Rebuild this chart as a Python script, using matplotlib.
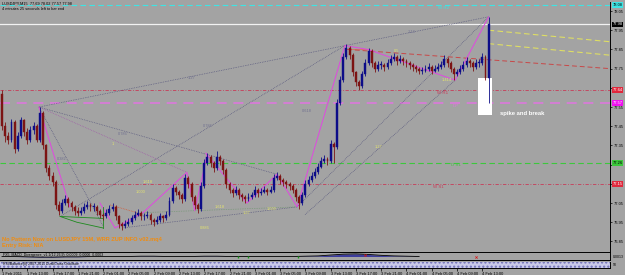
import matplotlib
matplotlib.use("Agg")
import matplotlib.pyplot as plt
import matplotlib.transforms as mtransforms
from matplotlib.patches import Rectangle
import numpy as np

plt.rcParams["font.family"] = ["Liberation Sans", "DejaVu Sans"]

# === 30 minute bars, 1 Feb 2011 09:00 -> 4 Feb 2011 14:00 ===
first_open = 77.62
closes = [77.45, 77.40, 77.38, 77.47, 77.33, 77.40, 77.48, 77.42, 77.38, 77.43,
          77.45, 77.38, 77.52, 77.35, 77.23, 77.19, 77.16, 77.04, 77.01, 77.05,
          77.07, 77.05, 77.03, 77.01, 77.00, 77.01, 77.03, 77.04, 77.03, 77.03,
          77.01, 76.99, 76.98, 77.00, 77.02, 77.03, 76.98, 76.94, 76.93, 76.94,
          76.95, 76.97, 76.99, 77.00, 76.98, 76.98, 76.99, 76.96, 76.95, 76.96,
          76.98, 76.97, 76.99, 77.06, 77.13, 77.11, 77.09, 77.07, 77.18, 77.15,
          77.08, 77.04, 77.02, 77.14, 77.26, 77.29, 77.26, 77.23, 77.29, 77.27,
          77.22, 77.15, 77.12, 77.10, 77.12, 77.09, 77.08, 77.07, 77.08, 77.09,
          77.12, 77.10, 77.11, 77.12, 77.11, 77.12, 77.18, 77.19, 77.17, 77.16,
          77.15, 77.14, 77.12, 77.08, 77.05, 77.09, 77.15, 77.17, 77.19, 77.21,
          77.24, 77.27, 77.28, 77.27, 77.36, 77.34, 77.57, 77.69, 77.81, 77.86,
          77.82, 77.73, 77.68, 77.66, 77.72, 77.78, 77.84, 77.78, 77.75, 77.77,
          77.77, 77.76, 77.78, 77.80, 77.81, 77.79, 77.80, 77.79, 77.78, 77.77,
          77.76, 77.75, 77.74, 77.74, 77.75, 77.76, 77.74, 77.75, 77.76, 77.77,
          77.80, 77.78, 77.75, 77.72, 77.73, 77.75, 77.77, 77.79, 77.78, 77.76,
          77.78, 77.78, 77.81, 77.70, 77.98]
highs = [77.64, 77.47, 77.42, 77.49, 77.48, 77.42, 77.50, 77.49, 77.44, 77.45,
         77.47, 77.46, 77.55, 77.53, 77.36, 77.25, 77.21, 77.17, 77.06, 77.07,
         77.09, 77.08, 77.06, 77.04, 77.03, 77.03, 77.05, 77.06, 77.05, 77.05,
         77.04, 77.02, 77.00, 77.02, 77.04, 77.05, 77.04, 76.99, 76.95, 76.96,
         76.97, 76.99, 77.01, 77.02, 77.01, 77.00, 77.01, 77.00, 76.97, 76.98,
         77.00, 76.99, 77.01, 77.08, 77.15, 77.14, 77.12, 77.10, 77.20, 77.19,
         77.16, 77.09, 77.05, 77.16, 77.28, 77.31, 77.30, 77.27, 77.32, 77.30,
         77.28, 77.23, 77.16, 77.13, 77.14, 77.13, 77.10, 77.09, 77.10, 77.11,
         77.14, 77.13, 77.13, 77.14, 77.13, 77.14, 77.20, 77.21, 77.20, 77.18,
         77.17, 77.16, 77.15, 77.13, 77.09, 77.11, 77.17, 77.19, 77.21, 77.23,
         77.26, 77.29, 77.30, 77.29, 77.38, 77.37, 77.59, 77.71, 77.83, 77.88,
         77.87, 77.83, 77.74, 77.69, 77.74, 77.80, 77.86, 77.85, 77.79, 77.79,
         77.79, 77.78, 77.80, 77.82, 77.83, 77.82, 77.82, 77.81, 77.80, 77.79,
         77.78, 77.77, 77.76, 77.76, 77.77, 77.78, 77.77, 77.77, 77.78, 77.79,
         77.82, 77.81, 77.79, 77.76, 77.75, 77.77, 77.79, 77.81, 77.80, 77.79,
         77.80, 77.80, 77.83, 77.82, 78.02]
lows = [77.43, 77.37, 77.36, 77.37, 77.31, 77.32, 77.39, 77.40, 77.36, 77.37,
        77.41, 77.37, 77.37, 77.33, 77.21, 77.17, 77.14, 77.02, 76.99, 77.00,
        77.04, 77.03, 77.01, 76.99, 76.98, 76.99, 77.00, 77.02, 77.01, 77.01,
        76.99, 76.97, 76.96, 76.97, 76.99, 77.01, 76.96, 76.92, 76.91, 76.92,
        76.93, 76.94, 76.96, 76.98, 76.96, 76.96, 76.97, 76.94, 76.93, 76.94,
        76.95, 76.95, 76.96, 76.98, 77.05, 77.09, 77.07, 77.05, 77.06, 77.13,
        77.06, 77.02, 77.00, 77.01, 77.13, 77.25, 77.24, 77.21, 77.22, 77.25,
        77.20, 77.13, 77.10, 77.08, 77.09, 77.07, 77.06, 77.05, 77.06, 77.07,
        77.08, 77.08, 77.09, 77.10, 77.09, 77.10, 77.11, 77.17, 77.15, 77.14,
        77.13, 77.12, 77.10, 77.06, 77.02, 77.04, 77.08, 77.14, 77.16, 77.18,
        77.20, 77.23, 77.26, 77.25, 77.26, 77.26, 77.33, 77.56, 77.68, 77.80,
        77.80, 77.71, 77.66, 77.64, 77.65, 77.71, 77.77, 77.76, 77.73, 77.74,
        77.75, 77.74, 77.75, 77.77, 77.79, 77.77, 77.78, 77.77, 77.76, 77.75,
        77.74, 77.73, 77.72, 77.72, 77.73, 77.74, 77.72, 77.73, 77.74, 77.75,
        77.76, 77.76, 77.73, 77.69, 77.71, 77.72, 77.74, 77.76, 77.76, 77.74,
        77.75, 77.76, 77.77, 77.69, 77.57]

time_labels = ["1 Feb 2011", "1 Feb 13:00", "1 Feb 17:00", "1 Feb 21:00", "2 Feb 01:00",
               "2 Feb 05:00", "2 Feb 09:00", "2 Feb 13:00", "2 Feb 17:00", "2 Feb 21:00",
               "3 Feb 01:00", "3 Feb 05:00", "3 Feb 09:00", "3 Feb 13:00", "3 Feb 17:00",
               "3 Feb 21:00", "4 Feb 01:00", "4 Feb 05:00", "4 Feb 09:00", "4 Feb 13:00"]
bars_per_label = 8

price_ticks = [78.05, 77.95, 77.85, 77.75, 77.65, 77.55, 77.45, 77.35,
               77.25, 77.15, 77.05, 76.95, 76.85]
# labels hidden behind the coloured level boxes on the price scale
hidden_ticks = [77.65, 77.25, 77.15]

# pivot levels
level_names = ["W R2", "W R1", "DP", "D S1", "W S1"]
level_prices = [78.08, 77.64, 77.57, 77.26, 77.15]
level_colors = ["#3ee4e4", "#c83c58", "#dc78dc", "#3cc83c", "#c83c58"]
level_label_x = [138, 137.5, 142.5, 142.0, 136.5]
bid_price = 77.98

# harmonic pattern drawing (bar index, price)
fan_start_x = [11.7, 11.7, 11.7, 18.4, 93.4, 95.9, 38.0]
fan_start_y = [77.55, 77.55, 77.55, 76.98, 77.03, 76.99, 76.92]
fan_end_x = [154.0, 87.0, 32.0, 108.5, 154.0, 143.4, 93.4]
fan_end_y = [78.02, 77.20, 76.93, 77.87, 78.02, 77.69, 77.03]

zz1_x = [11.7, 21.5]
zz1_y = [77.55, 77.03]
zz2_x = [31.0, 35.8, 44.6, 58.5, 61.0, 64.9]
zz2_y = [77.05, 76.92, 77.00, 77.21, 77.01, 77.30]
zz3_x = [64.5, 77.5, 87.0, 93.4, 108.5, 115.8, 143.4, 154.0]
zz3_y = [77.31, 77.05, 77.20, 77.03, 77.87, 77.85, 77.69, 78.02]

green_x = [32.0, 18.4, 23.7, 32.0, 32.0]
green_y = [76.97, 76.98, 76.95, 76.92, 77.03]

yellow_x0 = [154.0, 154.0]
yellow_y0 = [77.95, 77.88]
yellow_x1 = [192.4, 192.4]
yellow_y1 = [77.89, 77.82]
trend_x = [109.2, 192.4]
trend_y = [77.85, 77.75]

fib_x = [60.1, 38.3, 35.1, 19.0, 46.2, 43.7, 65.2, 96.5, 119.0, 69.0,
         77.5, 85.4, 64.2, 129.7, 125.0, 140.8]
fib_y = [77.70, 77.41, 77.36, 77.28, 77.16, 77.11, 77.45, 77.53, 77.34, 77.03,
         77.00, 77.02, 76.92, 77.94, 77.84, 77.69]
fib_text = ["1.27", "0.786", "1", "0.382", "1.618", "1.000", "0.786", "0.618", "1.27", "1.618",
            "1.27", "1.000", "0.886", "1.13", "0.5", "1.414"]
fib_yellow = [0, 0, 1, 0, 1, 1, 0, 0, 1, 1, 1, 1, 1, 0, 1, 1]

# MACD main line (every 4 bars)
macd_vals = [0.0, 0.0, -0.1, -0.2, -0.2, -0.1, -0.1, 0.0, 0.0, 0.0,
             0.0, 0.1, 0.1, 0.0, 0.0, 0.0, 0.1, 0.1, 0.0, 0.0,
             0.0, 0.0, 0.0, 0.0, 0.1, 0.2, 0.5, 0.8, 0.9, 0.7,
             0.4, 0.2, 0.1, 0.0]
macd_step = 4

BG = "#a3a3a3"
W, H = 625, 275
fig = plt.figure(figsize=(6.25, 2.75), dpi=100, facecolor=BG)


def px_axes(x0, y0, x1, y1):
    a = fig.add_axes([x0 / W, 1 - y1 / H, (x1 - x0) / W, (y1 - y0) / H])
    a.set_facecolor(BG)
    for s in a.spines.values():
        s.set_color("black")
        s.set_linewidth(0.7)
    return a


ax = px_axes(0, 2, 610, 252)
ax_macd = px_axes(0, 253, 610, 260)
ax_rsi = px_axes(0, 262, 610, 268)
for a in (ax, ax_macd, ax_rsi):
    a.set_xlim(-0.63, 192.4)
    a.spines["left"].set_visible(False)
    a.spines["top"].set_visible(False)

ax.set_ylim(76.795, 78.097)

# === candles ===
n = len(closes)
idx = np.arange(n)
c = np.array(closes)
o = np.array([first_open] + closes[:-1])
cols = np.where(c >= o, "#0c0c88", "#7c1414")
ax.add_patch(Rectangle((150.6, 77.51), 4.5, 0.19, facecolor="white", edgecolor="none", zorder=2))
ax.vlines(idx, lows, highs, colors=cols, lw=0.6, zorder=3)
ax.bar(idx, np.maximum(np.abs(c - o), 0.003), bottom=np.minimum(o, c), width=0.6,
       color=cols, edgecolor=cols, lw=0.3, zorder=3)

# === levels ===
ax.axhline(bid_price, color="#f2f2f2", lw=0.9, zorder=1.5)
styles = [(0, (5, 3)), (0, (4, 2, 1, 2)), (0, (6, 4)), (0, (5, 3)), (0, (4, 2, 1, 2))]
widths = [0.8, 0.6, 1.2, 0.8, 0.6]
for p, col, ls, lw in zip(level_prices, level_colors, styles, widths):
    ax.axhline(p, color=col, lw=lw, ls=ls, zorder=1.5)
for name, p, col, xx in zip(level_names, level_prices, level_colors, level_label_x):
    ax.text(xx, p - 0.004, name, color=col, fontsize=3.2, va="top", ha="left", zorder=4)

# === pattern lines ===
for x0, y0, x1, y1 in zip(fan_start_x, fan_start_y, fan_end_x, fan_end_y):
    ax.plot([x0, x1], [y0, y1], color="#4c4c78", lw=0.5, ls=(0, (1, 1.5)), zorder=1.8)
ax.plot([11.7, 58.5], [77.55, 77.21], color="#a050a8", lw=0.5, ls=(0, (1, 1.5)), zorder=1.8)
ax.plot([44.6, 93.4], [77.00, 77.03], color="#6a946a", lw=0.5, ls=(0, (1, 1.5)), zorder=1.8)
ax.plot([34.2, 42.7], [77.04, 77.00], color="#d06040", lw=0.6, ls=(0, (1, 1)), zorder=1.8)
ax.plot([108.8, 115.8], [77.85, 77.85], color="#d87060", lw=0.6, zorder=1.8)
for xs, ys in ((zz1_x, zz1_y), (zz2_x, zz2_y), (zz3_x, zz3_y)):
    ax.plot(xs, ys, color="#e048e0", lw=0.7, zorder=2.5)
ax.plot(green_x[:2], green_y[:2], color="#1e8a1e", lw=0.6, zorder=2.5)
ax.plot(green_x[1:4], green_y[1:4], color="#1e8a1e", lw=0.6, zorder=2.5)
ax.plot(green_x[3:], green_y[3:], color="#1e8a1e", lw=0.6, zorder=2.5)
for x0, y0, x1, y1 in zip(yellow_x0, yellow_y0, yellow_x1, yellow_y1):
    ax.plot([x0, x1], [y0, y1], color="#dede64", lw=0.8, ls=(0, (5, 3)), zorder=1.8)
ax.plot(trend_x, trend_y, color="#c84848", lw=0.7, ls=(0, (5, 3)), zorder=1.8)

for xx, yy, t, yl in zip(fib_x, fib_y, fib_text, fib_yellow):
    ax.text(xx, yy, t, color="#e6e66e" if yl else "#707090", fontsize=2.8,
            ha="center", va="center", zorder=4)

ax.text(157.5, 77.515, "spike and break", color="white", fontsize=4.2,
        fontweight="bold", ha="left", va="center", zorder=5)

# === price axis ===
ax.yaxis.tick_right()
ax.set_yticks(price_ticks)
ax.set_yticklabels(["" if p in hidden_ticks else f"{p:.2f}" for p in price_ticks])
ax.tick_params(axis="y", length=1.5, width=0.5, pad=1, labelsize=2.9, colors="black")
ax.set_xticks([])

box_prices = [level_prices[0], bid_price] + level_prices[1:]
box_colors = [level_colors[0], "black", "#e0283c", "#f010f0", "#3cc83c", "#e0283c"]
box_text_cols = ["black", "white", "white", "white", "black", "white"]
trans = mtransforms.blended_transform_factory(ax.transAxes, ax.transData)
for p, bc, tc in zip(box_prices, box_colors, box_text_cols):
    ax.text(1.004, p, f"{p:.2f}", transform=trans, fontsize=2.9, color=tc, va="center",
            ha="left", clip_on=False, zorder=6,
            bbox=dict(facecolor=bc, edgecolor="none", pad=0.6))

# === header & info text ===
fig.text(2 / W, 1 - 4 / H, "LUSDJPY,M15  77.69 78.02 77.57 77.98", fontsize=2.8,
         va="center", ha="left", color="black")
fig.text(2 / W, 1 - 9 / H, "4 minutes 25 seconds left to bar end", fontsize=2.8,
         va="center", ha="left", color="black")
fig.text(2 / W, 1 - 240 / H, "No Pattern Now on LUSDJPY 15M, WRR ZUP INFO v02.mq4",
         fontsize=4.1, fontweight="bold", color="#f08c10", va="center", ha="left")
fig.text(2 / W, 1 - 246 / H, "Entry Risk: N/A", fontsize=4.1, fontweight="bold",
         color="#f08c10", va="center", ha="left")

# === MACD panel ===
ax_macd.set_ylim(-1.2, 1.2)
mx = np.arange(len(macd_vals)) * macd_step
ax_macd.fill_between(mx, 0, macd_vals, color="#3c3c9c", lw=0)
ax_macd.plot(mx, macd_vals, color="black", lw=0.6)
ax_macd.plot([74.7, 77.8, 93.7], [0, 0, 0], ls="none", marker="|", ms=2, color="#1a9a1a")
ax_macd.plot([115, 150], [0.4, 0], ls="none", marker="x", ms=1.6, mew=0.5, color="#e01010")
ax_macd.text(0.3, 0.55, "FX5_MACD_Divergence_v1.1(12,26,9)  0.0009  0.0006  0.0003",
             fontsize=2.5, color="black", va="center", ha="left")
ax_macd.set_xticks([])
ax_macd.set_yticks([])
ax_macd.text(1.004, 0.5, "0.0013", transform=ax_macd.transAxes, fontsize=2.5,
             va="center", ha="left", clip_on=False)

# === RSI panel ===
ax_rsi.set_ylim(0, 1)
ax_rsi.fill_between([-0.63, 192.4], 0, 1, facecolor="#cacaea", edgecolor="#7272b8",
                    hatch="....", lw=0)
ax_rsi.text(0.3, 0.7, "RSI/Balance(8) 2007-2011 Dual/Cross Oscillator", fontsize=2.5,
            color="black", va="center", ha="left")
ax_rsi.set_yticks([])
ax_rsi.text(1.004, 0.5, "50", transform=ax_rsi.transAxes, fontsize=2.5,
            va="center", ha="left", clip_on=False)
ax_rsi.set_xticks(np.arange(len(time_labels)) * bars_per_label)
ax_rsi.set_xticklabels(time_labels, ha="left")
ax_rsi.tick_params(axis="x", length=2, width=0.5, pad=0.8, labelsize=2.9, colors="black")

fig.savefig("out.png", dpi=100, facecolor=BG)
